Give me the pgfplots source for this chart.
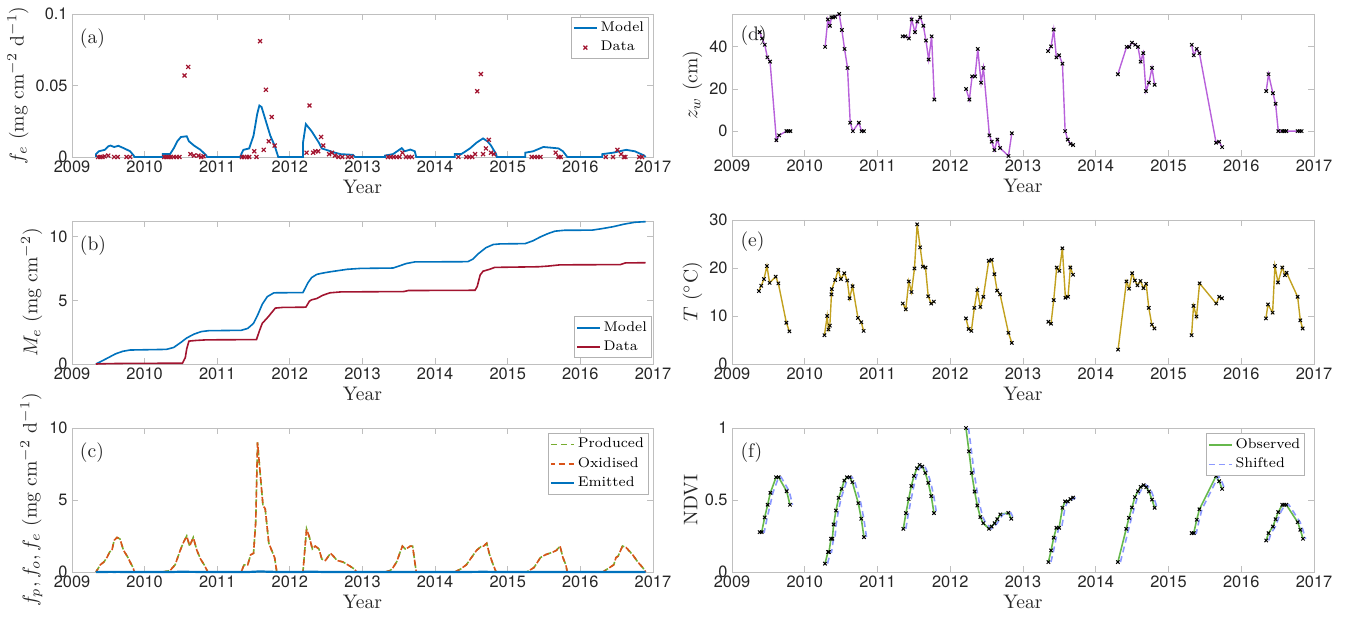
\documentclass[border=0pt]{standalone}
\usepackage{fontspec}
\usepackage{pgfplots}
\usepackage{pgfplotstable}
\pgfplotsset{compat=1.18}
\newfontfamily\hel{TeX Gyre Heros}

\definecolor{mblue}{rgb}{0,0.447,0.741}
\definecolor{mred}{rgb}{0.635,0.078,0.184}
\definecolor{mgreen}{rgb}{0.466,0.674,0.188}
\definecolor{morange}{rgb}{0.85,0.325,0.098}
\definecolor{mpurple}{rgb}{0.72,0.38,0.86}
\definecolor{mgold}{rgb}{0.76,0.63,0.12}
\definecolor{ngreen}{rgb}{0.40,0.72,0.30}
\definecolor{sblue}{rgb}{0.55,0.6,1.0}

% (a) model emission flux
\pgfplotstableread{
t v
2009.33 0
2009.331 0.002
2009.37 0.004
2009.45 0.005
2009.5 0.0075
2009.53 0.008
2009.58 0.007
2009.64 0.0078
2009.72 0.006
2009.8 0.004
2009.85 0.001
2009.86 0
2010.25 0
2010.251 0.002
2010.35 0.002
2010.4 0.006
2010.45 0.011
2010.5 0.014
2010.58 0.0145
2010.61 0.011
2010.68 0.008
2010.77 0.005
2010.85 0.001
2010.86 0
2011.33 0
2011.331 0.002
2011.36 0.005
2011.44 0.006
2011.5 0.015
2011.55 0.03
2011.58 0.036
2011.61 0.035
2011.67 0.025
2011.73 0.015
2011.79 0.008
2011.84 0
2012.18 0
2012.181 0.01
2012.22 0.023
2012.3 0.018
2012.4 0.01
2012.44 0.006
2012.5 0.005
2012.56 0.004
2012.62 0.003
2012.7 0.002
2012.87 0.0015
2012.9 0
2013.31 0
2013.311 0.001
2013.42 0.002
2013.54 0.0062
2013.58 0.004
2013.66 0.0052
2013.72 0.004
2013.74 0
2014.27 0
2014.271 0.002
2014.36 0.002
2014.48 0.006
2014.57 0.010
2014.66 0.013
2014.72 0.011
2014.77 0.008
2014.84 0.002
2014.85 0
2015.24 0
2015.241 0.003
2015.35 0.004
2015.49 0.007
2015.6 0.0065
2015.7 0.006
2015.76 0.004
2015.82 0
2016.3 0
2016.301 0.002
2016.45 0.003
2016.63 0.005
2016.75 0.004
2016.88 0.001
2016.9 0
}\tabAmodel

% (a) data
\pgfplotstableread{
t v
2009.36 0
2009.39 0
2009.42 0
2009.45 0.0005
2009.5 0.001
2009.58 0
2009.63 0
2009.75 0
2009.8 0
2010.27 0
2010.3 0
2010.33 0
2010.36 0
2010.4 0
2010.44 0
2010.48 0
2010.55 0.057
2010.6 0.063
2010.63 0.002
2010.68 0.001
2010.74 0.001
2010.78 0
2010.81 0.0005
2011.34 0
2011.37 0
2011.41 0
2011.44 0
2011.51 0.004
2011.54 0
2011.59 0.081
2011.64 0.005
2011.67 0.047
2011.71 0.011
2011.75 0.028
2011.79 0.008
2012.23 0.003
2012.27 0.036
2012.32 0.003
2012.35 0.004
2012.39 0.004
2012.43 0.014
2012.46 0.008
2012.54 0.002
2012.58 0.003
2012.62 0.001
2012.67 0
2012.72 0
2012.8 0
2012.85 0
2013.35 0
2013.39 0
2013.43 0
2013.47 0
2013.51 0
2013.55 0.003
2013.6 0
2013.64 0
2013.68 0
2014.32 0
2014.43 0
2014.47 0
2014.51 0
2014.55 0.002
2014.58 0.046
2014.63 0.058
2014.66 0.002
2014.7 0.006
2014.74 0.012
2014.77 0.003
2014.81 0.002
2015.33 0
2015.37 0
2015.41 0
2015.45 0
2015.66 0.003
2015.7 0
2015.73 0
2016.35 0
2016.45 0
2016.51 0.005
2016.56 0.002
2016.6 0
2016.62 0
2016.81 0
2016.85 0
}\tabAdata

% (b) cumulative model
\pgfplotstableread{
t v
2009.33 0
2009.4 0.2
2009.5 0.5
2009.6 0.8
2009.7 1.0
2009.8 1.1
2010.3 1.15
2010.4 1.3
2010.5 1.7
2010.58 2.05
2010.68 2.35
2010.78 2.55
2010.88 2.62
2011.33 2.65
2011.42 2.8
2011.5 3.2
2011.56 3.9
2011.62 4.7
2011.69 5.3
2011.78 5.6
2012.18 5.62
2012.25 6.4
2012.3 6.8
2012.37 7.05
2012.45 7.15
2012.55 7.25
2012.79 7.45
2012.97 7.52
2013.42 7.55
2013.5 7.7
2013.6 7.9
2013.72 8.03
2014.45 8.05
2014.52 8.25
2014.6 8.7
2014.7 9.15
2014.8 9.4
2014.9 9.45
2015.24 9.47
2015.35 9.7
2015.45 10.0
2015.55 10.25
2015.65 10.45
2015.78 10.52
2016.16 10.53
2016.3 10.65
2016.45 10.8
2016.6 11.0
2016.75 11.15
2016.9 11.2
}\tabBmodel

% (b) cumulative data
\pgfplotstableread{
t v
2009.33 0
2009.5 0.03
2009.8 0.05
2010.52 0.06
2010.56 0.5
2010.58 1.2
2010.61 1.8
2010.7 1.85
2010.85 1.9
2011.54 1.92
2011.58 2.6
2011.62 3.2
2011.7 3.7
2011.8 4.4
2011.9 4.45
2012.22 4.47
2012.27 4.95
2012.3 5.05
2012.37 5.15
2012.45 5.4
2012.55 5.6
2012.7 5.67
2013.57 5.7
2013.63 5.78
2014.55 5.8
2014.58 6.1
2014.62 7.0
2014.66 7.3
2014.75 7.45
2014.82 7.6
2015.42 7.65
2015.55 7.7
2015.72 7.8
2016.55 7.82
2016.62 7.95
2016.9 7.97
}\tabBdata

% (c) produced / oxidised
\pgfplotstableread{
t v
2009.33 0
2009.39 0.5
2009.44 0.7
2009.48 1.0
2009.52 1.4
2009.55 1.5
2009.58 2.2
2009.62 2.4
2009.66 2.3
2009.71 1.5
2009.76 1.1
2009.8 0.7
2009.84 0.3
2009.86 0
2010.25 0
2010.35 0.1
2010.42 0.5
2010.49 1.5
2010.53 2.0
2010.58 2.5
2010.62 1.8
2010.67 2.4
2010.72 1.5
2010.77 0.9
2010.82 0.5
2010.87 0
2011.33 0
2011.37 0.5
2011.42 0.5
2011.46 1.2
2011.5 1.3
2011.53 3.5
2011.555 9.0
2011.58 7.5
2011.63 4.6
2011.66 4.4
2011.71 2.0
2011.75 1.5
2011.79 1.0
2011.82 0
2012.18 0
2012.23 3.0
2012.27 2.4
2012.31 1.6
2012.35 1.8
2012.4 1.6
2012.44 0.9
2012.49 0.8
2012.56 1.3
2012.6 1.1
2012.65 0.8
2012.73 0.7
2012.83 0.4
2012.89 0.2
2012.92 0
2013.31 0
2013.38 0.1
2013.42 0.3
2013.47 0.7
2013.52 1.4
2013.55 1.8
2013.59 1.6
2013.63 1.7
2013.66 1.8
2013.69 1.8
2013.74 0
2014.27 0
2014.35 0.2
2014.43 0.5
2014.5 1.0
2014.57 1.5
2014.64 1.8
2014.67 1.8
2014.71 2.0
2014.75 1.2
2014.8 0.5
2014.84 0
2015.26 0
2015.36 0.3
2015.45 1.0
2015.52 1.2
2015.63 1.4
2015.67 1.5
2015.72 1.8
2015.76 1.0
2015.8 0.5
2015.82 0
2016.31 0
2016.43 0.4
2016.46 0.5
2016.49 1.0
2016.52 1.1
2016.58 1.8
2016.63 1.7
2016.72 1.2
2016.79 0.7
2016.86 0.3
2016.9 0
}\tabC

% (d) water table
\pgfplotstableread{
t v
2009.381 47
2009.413 44
2009.450 41
2009.486 35
2009.523 33
2009.610 -4.3
2009.647 -2
2009.748 0
2009.776 0
2009.803 0
nan nan
2010.280 40
2010.317 53
2010.345 50
2010.368 54
2010.390 54
2010.418 54.3
2010.473 55.6
2010.510 48
2010.547 39
2010.588 30
2010.625 4
2010.661 0
2010.744 4
2010.781 0
2010.813 0
nan nan
2011.345 45
2011.382 45
2011.432 44
2011.469 53
2011.515 47
2011.547 52
2011.588 54
2011.630 50
2011.666 43
2011.703 34
2011.744 45
2011.781 15
nan nan
2012.217 20
2012.263 15
2012.300 26
2012.341 26
2012.378 39
2012.424 23
2012.456 30
2012.538 -2
2012.570 -5
2012.607 -9
2012.648 -4
2012.685 -8
2012.800 -11.8
2012.846 -1
nan nan
2013.344 38
2013.386 40.2
2013.422 48.2
2013.459 35
2013.496 36
2013.542 32
2013.579 0
2013.615 -4
2013.652 -6
2013.689 -6.6
nan nan
2014.304 27
2014.424 40
2014.460 40
2014.497 42
2014.543 41
2014.580 40
2014.617 33
2014.653 37
2014.690 19
2014.731 23
2014.773 30
2014.809 22
nan nan
2015.319 41
2015.347 36
2015.388 39
2015.425 37
2015.654 -5.5
2015.696 -5
2015.737 -7.6
nan nan
2016.343 19
2016.375 27
2016.435 18
2016.472 13
2016.509 0
2016.564 0
2016.591 0
2016.619 0
2016.775 0
2016.802 0
2016.830 0
}\tabD

% (e) temperature
\pgfplotstableread{
t v
2009.370 15.2
2009.402 16.3
2009.439 17.7
2009.480 20.4
2009.517 16.9
2009.600 18.2
2009.637 16.8
2009.747 8.6
2009.789 6.8
nan nan
2010.271 6.0
2010.308 10.0
2010.326 7.2
2010.345 8.0
2010.367 14.5
2010.372 15.6
2010.418 17.5
2010.460 19.6
2010.497 17.7
2010.543 18.9
2010.584 17.4
2010.616 13.7
2010.657 16.2
2010.731 9.6
2010.777 8.7
2010.809 6.9
nan nan
2011.347 12.6
2011.389 11.4
2011.430 17.2
2011.467 15.0
2011.508 19.9
2011.545 29.1
2011.586 24.3
2011.623 20.3
2011.660 20.1
2011.697 14.1
2011.738 12.6
2011.775 13.0
nan nan
2012.216 9.5
2012.253 7.3
2012.290 6.9
2012.331 11.7
2012.372 15.4
2012.414 11.9
2012.455 14.0
2012.529 21.5
2012.570 21.7
2012.607 18.7
2012.644 15.3
2012.685 14.5
2012.800 6.5
2012.846 4.4
nan nan
2013.349 8.8
2013.385 8.4
2013.422 13.3
2013.463 20.1
2013.500 19.4
2013.541 24.1
2013.583 13.8
2013.619 14.0
2013.651 20.1
2013.688 18.6
nan nan
2014.307 3.0
2014.422 17.2
2014.459 15.7
2014.500 18.9
2014.537 17.4
2014.573 16.4
2014.615 17.3
2014.656 15.8
2014.693 16.7
2014.729 11.7
2014.771 8.2
2014.807 7.4
nan nan
2015.317 6.0
2015.344 12.1
2015.385 9.9
2015.427 16.8
2015.656 12.6
2015.697 14.0
2015.734 13.7
nan nan
2016.339 9.5
2016.367 12.4
2016.431 10.7
2016.463 20.4
2016.505 17.0
2016.564 20.1
2016.601 18.5
2016.624 19.0
2016.775 14.0
2016.812 9.1
2016.844 7.4
}\tabE

% (f) NDVI observed
\pgfplotstableread{
t v
2009.380 0.277
2009.408 0.277
2009.449 0.379
2009.490 0.467
2009.527 0.550
2009.605 0.658
2009.641 0.658
2009.751 0.561
2009.797 0.467
nan nan
2010.278 0.058
2010.319 0.139
2010.333 0.139
2010.360 0.231
2010.379 0.231
2010.397 0.330
2010.429 0.427
2010.466 0.515
2010.507 0.577
2010.544 0.635
2010.580 0.658
2010.617 0.658
2010.654 0.624
2010.736 0.478
2010.777 0.370
2010.814 0.242
nan nan
2011.355 0.300
2011.391 0.409
2011.428 0.506
2011.465 0.598
2011.501 0.667
2011.542 0.720
2011.579 0.744
2011.616 0.732
2011.657 0.688
2011.698 0.619
2011.739 0.527
2011.776 0.409
nan nan
2012.216 1.000
2012.257 0.838
2012.294 0.688
2012.335 0.559
2012.372 0.462
2012.413 0.381
2012.454 0.339
2012.532 0.300
2012.569 0.316
2012.610 0.339
2012.646 0.367
2012.688 0.400
2012.798 0.411
2012.839 0.370
nan nan
2013.349 0.069
2013.386 0.150
2013.422 0.238
2013.459 0.307
2013.496 0.307
2013.542 0.446
2013.579 0.490
2013.615 0.490
2013.652 0.506
2013.689 0.517
nan nan
2014.304 0.069
2014.419 0.300
2014.456 0.376
2014.497 0.448
2014.538 0.520
2014.580 0.561
2014.617 0.591
2014.658 0.603
2014.695 0.589
2014.731 0.559
2014.773 0.503
2014.809 0.446
nan nan
2015.319 0.270
2015.347 0.270
2015.388 0.363
2015.425 0.436
2015.654 0.667
2015.696 0.630
2015.737 0.577
nan nan
2016.343 0.219
2016.375 0.270
2016.435 0.316
2016.472 0.367
2016.509 0.416
2016.564 0.467
2016.591 0.467
2016.619 0.467
2016.775 0.346
2016.812 0.293
2016.849 0.231
}\tabF

\tikzset{plab/.style={anchor=north west, inner sep=0pt, font=\fontsize{9.8}{11}\selectfont, text=black!85}}

\pgfplotsset{
  mstyle/.style={
    scale only axis,
    xmin=2009, xmax=2017,
    xtick={2009,2010,2011,2012,2013,2014,2015,2016,2017},
    xticklabels={2009,2010,2011,2012,2013,2014,2015,2016,2017},
    scaled ticks=false,
    axis line style={gray!50, line width=0.45pt},
    every tick/.style={gray!50, line width=0.45pt},
    tickpos=both, tick align=inside,
    major tick length=3pt,
    tick label style={font=\hel\fontsize{8.2}{9}\selectfont, text=black!85},
    xticklabel style={inner sep=1.5pt},
    yticklabel style={inner sep=2pt},
    label style={font=\fontsize{9.8}{11}\selectfont, text=black!85},
    xlabel={Year},
    xlabel style={yshift=1pt},
    ylabel style={yshift=-2pt},
    legend style={font=\fontsize{7}{8}\selectfont, draw=gray!60, line width=0.4pt,
      inner sep=0.8pt, row sep=0.3pt, nodes={inner sep=1.5pt}},
    legend cell align=left,
    legend image code/.code={\draw[mark repeat=2,mark phase=2,##1] plot coordinates {(0cm,0cm) (0.2cm,0cm) (0.4cm,0cm)};},
    clip=false,
  },
}

\begin{document}
\begin{tikzpicture}
\useasboundingbox (0,0) rectangle (681.5pt,-312.5pt);

% (a)
\begin{axis}[mstyle, at={(36pt,-78.5pt)}, anchor=south west, width=290.5pt, height=71.5pt,
  ymin=0, ymax=0.1, ytick={0,0.05,0.1}, yticklabels={0,0.05,0.1},
  ylabel={$f_e$ (mg cm$^{-2}$ d$^{-1}$)},
  legend style={at={(rel axis cs:0.993,0.979)}, anchor=north east}]
\addplot[color=mblue, line width=0.9pt] table[x=t,y=v]{\tabAmodel};
\addlegendentry{Model}
\addplot[only marks, mark=x, mark size=1.4pt, color=mred, line width=0.6pt] table[x=t,y=v]{\tabAdata};
\addlegendentry{Data}
\node[plab] at (rel axis cs:0.013,0.9) {(a)};
\end{axis}

% (b)
\begin{axis}[mstyle, at={(36pt,-182pt)}, anchor=south west, width=290.5pt, height=71.5pt,
  ymin=0, ymax=11.25, ytick={0,5,10}, yticklabels={0,5,10},
  ylabel={$M_e$ (mg cm$^{-2}$)},
  legend style={at={(rel axis cs:0.998,0.04)}, anchor=south east}]
\addplot[color=mblue, line width=0.8pt] table[x=t,y=v]{\tabBmodel};
\addlegendentry{Model}
\addplot[color=mred, line width=0.8pt] table[x=t,y=v]{\tabBdata};
\addlegendentry{Data}
\node[plab] at (rel axis cs:0.013,0.9) {(b)};
\end{axis}

% (c)
\begin{axis}[mstyle, at={(36pt,-286pt)}, anchor=south west, width=290.5pt, height=72pt,
  ymin=0, ymax=10, ytick={0,5,10}, yticklabels={0,5,10},
  ylabel={$f_p, f_o, f_e$ (mg cm$^{-2}$ d$^{-1}$)},
  legend style={at={(rel axis cs:0.993,0.965)}, anchor=north east}]
\addplot[color=mgreen, line width=0.8pt, dash pattern=on 3pt off 2pt] table[x=t,y=v]{\tabC};
\addlegendentry{Produced}
\addplot[color=morange, line width=0.8pt, dash pattern=on 3pt off 2pt, dash phase=1.2pt] table[x=t,y=v]{\tabC};
\addlegendentry{Oxidised}
\addplot[color=mblue, line width=1.1pt] table[x=t,y=v]{\tabAmodel};
\addlegendentry{Emitted}
\node[plab] at (rel axis cs:0.013,0.9) {(c)};
\end{axis}

% (d)
\begin{axis}[mstyle, at={(366pt,-78pt)}, anchor=south west, width=291pt, height=71pt,
  ymin=-11.8, ymax=55.6, ytick={0,20,40}, yticklabels={0,20,40},
  ylabel={$z_w$ (cm)}, unbounded coords=jump]
\addplot[color=mpurple, line width=0.7pt] table[x=t,y=v]{\tabD};
\addplot[only marks, mark=x, mark size=1.2pt, black, line width=0.5pt] table[x=t,y=v]{\tabD};
\node[plab] at (rel axis cs:0.014,0.92) {(d)};
\end{axis}

% (e)
\begin{axis}[mstyle, at={(366pt,-182pt)}, anchor=south west, width=291pt, height=72pt,
  ymin=0, ymax=30, ytick={0,10,20,30}, yticklabels={0,10,20,30},
  ylabel={$T$ ($^\circ$C)}, unbounded coords=jump]
\addplot[color=mgold, line width=0.7pt] table[x=t,y=v]{\tabE};
\addplot[only marks, mark=x, mark size=1.2pt, black, line width=0.5pt] table[x=t,y=v]{\tabE};
\node[plab] at (rel axis cs:0.014,0.92) {(e)};
\end{axis}

% (f)
\begin{axis}[mstyle, at={(366pt,-286pt)}, anchor=south west, width=291pt, height=72pt,
  ymin=0, ymax=1, ytick={0,0.5,1}, yticklabels={0,0.5,1},
  ylabel={NDVI}, unbounded coords=jump,
  legend style={at={(rel axis cs:0.985,0.962)}, anchor=north east}]
\addplot[color=ngreen, line width=0.8pt] table[x=t,y=v]{\tabF};
\addlegendentry{Observed}
\addplot[color=sblue, line width=0.8pt, dash pattern=on 3pt off 2pt] table[x expr=\thisrow{t}+0.035,y=v]{\tabF};
\addlegendentry{Shifted}
\addplot[only marks, mark=x, mark size=1.2pt, black, line width=0.5pt, forget plot] table[x=t,y=v]{\tabF};
\node[plab] at (rel axis cs:0.014,0.9) {(f)};
\end{axis}
\end{tikzpicture}
\end{document}
